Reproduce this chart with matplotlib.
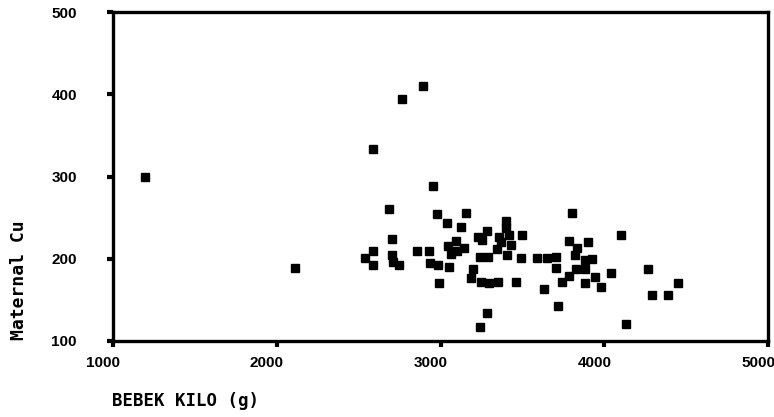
import numpy as np
import matplotlib
matplotlib.use("Agg")
import matplotlib.pyplot as plt
from matplotlib.transforms import ScaledTranslation

# bebek kilosu (g) ve maternal Cu degerleri
bebek_kilo = [1195, 2110, 2585, 2762, 2896, 2957, 2683, 2976, 3153, 3037,
              3128, 2701, 3287, 3226, 3256, 3092, 3043, 3146, 3098, 3067,
              2585, 2537, 2585, 2701, 2707, 2744, 2854, 2927, 2933, 2982,
              3049, 2988, 3201, 3189, 3250, 3299, 3354, 3464, 3634, 3281,
              3244, 3244, 3293, 3348, 3403, 3397, 3360, 3421, 3500, 3372,
              3433, 3409, 3494, 3592, 3653, 3708, 3708, 3805, 3787, 3836,
              3903, 3823, 3884, 3927, 3829, 3884, 3787, 3744, 3884, 3945,
              3982, 4043, 4104, 4268, 4451, 4293, 4390, 3720, 4134]
maternal_cu = [299, 189, 334, 394, 410, 288, 261, 254, 256, 244,
               239, 224, 234, 226, 223, 222, 216, 213, 210, 206,
               210, 201, 193, 205, 196, 193, 210, 210, 195, 193,
               190, 171, 188, 177, 172, 171, 172, 172, 163, 134,
               117, 202, 202, 212, 246, 237, 227, 229, 229, 220,
               217, 205, 201, 201, 201, 202, 189, 256, 222, 213,
               220, 205, 198, 200, 188, 188, 179, 172, 170, 178,
               166, 183, 229, 188, 170, 156, 156, 143, 121]

x_ticks = [1000, 2000, 3000, 4000, 5000]
y_ticks = [100, 200, 300, 400, 500]

fig = plt.figure(figsize=(7.74, 4.17), dpi=100)
ax = fig.add_axes([113/774, 1 - 341/417, (768 - 113)/774, (341 - 12)/417])

ax.plot(bebek_kilo, maternal_cu, ls="none", marker="s", ms=6,
        mfc="black", mec="black", mew=1)

ax.set_xlim(1000, 5000)
ax.set_ylim(100, 500)
ax.set_xticks(x_ticks)
ax.set_yticks(y_ticks)

for s in ax.spines.values():
    s.set_linewidth(2.4)
    s.set_color("black")

ax.tick_params(direction="out", length=4, width=3, color="black")
ax.tick_params(axis="x", pad=7)
ax.tick_params(axis="y", pad=22)
for lab in ax.get_xticklabels() + ax.get_yticklabels():
    lab.set_fontfamily("Liberation Sans")
    lab.set_fontweight("bold")
    lab.set_fontsize(11)
# etiketler biraz sola kayik
off = ScaledTranslation(-10/100, 0, fig.dpi_scale_trans)
for lab in ax.get_xticklabels():
    lab.set_transform(lab.get_transform() + off)

fig.text(112/774, 1 - 401/417, "BEBEK KILO (g)", ha="left", va="center",
         family="DejaVu Sans Mono", weight="bold", fontsize=12.5)
fig.text(19/774, 1 - 280/417, "Maternal Cu", ha="center", va="center",
         rotation=90, family="DejaVu Sans Mono", weight="bold", fontsize=13)

fig.savefig("out.png", dpi=100)
